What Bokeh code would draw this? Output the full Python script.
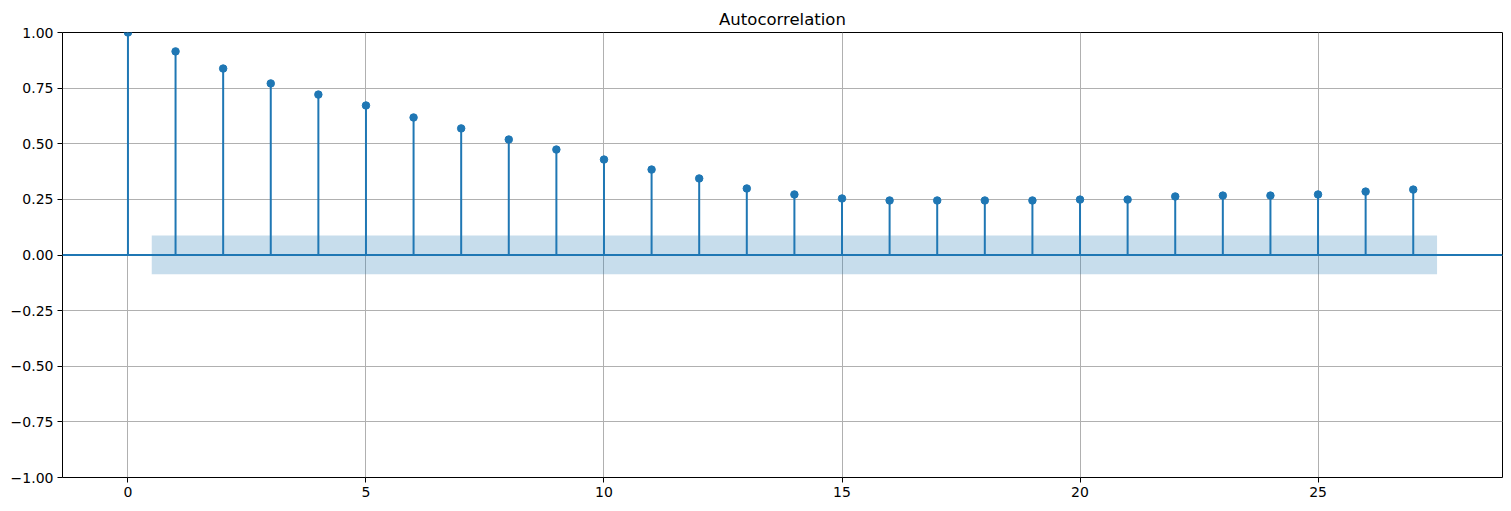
from bokeh.plotting import figure
from bokeh.models import Range1d, FixedTicker, Span, ColumnDataSource
from bokeh.embed import file_html
from bokeh.resources import INLINE

# ---- data ----
lags = list(range(28))
acf_values = [1.000, 0.915, 0.838, 0.771, 0.721, 0.672, 0.618, 0.569, 0.519,
              0.474, 0.429, 0.384, 0.344, 0.299, 0.272, 0.254, 0.245, 0.245,
              0.245, 0.245, 0.249, 0.249, 0.263, 0.267, 0.267, 0.272, 0.285,
              0.294]
band_x = [0.5, 27.5]
band_upper = [0.088, 0.088]
band_lower = [-0.087, -0.087]
title_text = "Autocorrelation"
x_ticks = [0, 5, 10, 15, 20, 25]
y_ticks = [-1.0, -0.75, -0.5, -0.25, 0.0, 0.25, 0.5, 0.75, 1.0]

BLUE = "#1f77b4"
FONT = "DejaVu Sans"

p = figure(width=1511, height=511, output_backend="svg", toolbar_location=None,
           x_range=Range1d(-1.375, 28.875), y_range=Range1d(-1.0, 1.0),
           min_border_left=62, min_border_right=9, min_border_top=32,
           min_border_bottom=34)

p.title.text = title_text
p.title.align = "center"
p.title.text_font = FONT
p.title.text_font_size = "16.5px"
p.title.text_font_style = "normal"
p.title.text_color = "black"
p.title.standoff = 7

p.outline_line_color = "black"
p.outline_line_width = 1
p.outline_line_alpha = 1.0

for ax in (p.xaxis[0], p.yaxis[0]):
    ax.axis_line_color = None
    ax.major_tick_out = 5
    ax.major_tick_in = 0
    ax.minor_tick_out = 0
    ax.minor_tick_in = 0
    ax.major_tick_line_color = "black"
    ax.major_label_text_font = FONT
    ax.major_label_text_font_size = "14px"
    ax.major_label_text_color = "black"
    ax.major_label_standoff = 4

p.xaxis.ticker = FixedTicker(ticks=x_ticks)
p.yaxis.ticker = FixedTicker(ticks=y_ticks)
p.yaxis.major_label_overrides = {
    t: (f"{t:.2f}".replace("-", "\u2212")) for t in y_ticks
}

p.xgrid.ticker = FixedTicker(ticks=x_ticks)
p.ygrid.ticker = FixedTicker(ticks=y_ticks)
for g in (p.xgrid[0], p.ygrid[0]):
    g.grid_line_color = "#b0b0b0"
    g.grid_line_width = 1

# confidence band
p.varea(x=band_x, y1=band_lower, y2=band_upper, fill_color=BLUE, fill_alpha=0.25)

# zero line
p.add_layout(Span(location=0, dimension="width", line_color=BLUE, line_width=2))

src = ColumnDataSource(dict(lag=lags, acf=acf_values, base=[0] * len(lags)))
p.segment(x0="lag", y0="base", x1="lag", y1="acf", source=src,
          line_color=BLUE, line_width=2)
p.scatter(x="lag", y="acf", source=src, size=7.5, fill_color=BLUE,
          line_color=BLUE)

open("out.html", "w").write(file_html(p, INLINE))
